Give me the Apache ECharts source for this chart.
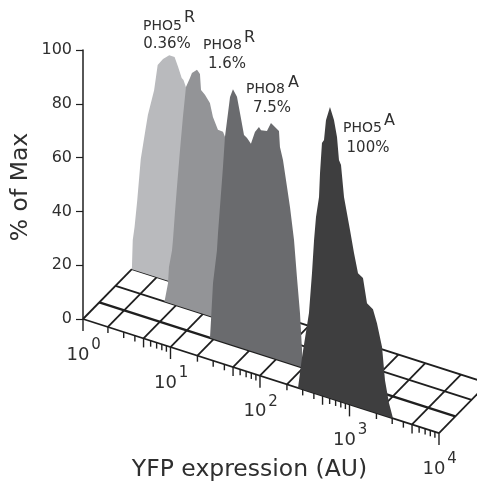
<!DOCTYPE html>
<html><head><meta charset="utf-8">
<style>html,body{margin:0;padding:0;background:#fff}#c{width:477px;height:484px}</style>
<script src="https://cdn.jsdelivr.net/npm/echarts@6/dist/echarts.min.js"></script>
</head><body><div id="c"></div>
<script>
// Histograms: [log10(YFP), % of max]
const pho5R = [[0,0],[.01,13],[.03,19],[.06,31],[.10,50],[.15,63],[.18,70.5],[.25,82.4],[.29,94],[.35,97.4],[.42,100],[.48,100],[.52,96],[.56,91.7],[.58,91],[.61,88],[.65,78.7],[.76,49],[.88,19.6],[.97,0]];
const pho8R = [[.55,0],[.589,8],[.60,14.8],[.634,22],[.645,26.5],[.667,38],[.69,49],[.724,64.6],[.757,78.7],[.791,91.4],[.836,95.7],[.858,98],[.915,100],[.948,98.7],[.96,92.2],[1.004,90.7],[1.06,88],[1.094,82.6],[1.15,78],[1.207,77.8],[1.229,76],[1.308,63],[1.398,39.5],[1.51,16],[1.6,0]];
const pho8A = [[1.244,0],[1.255,7],[1.278,21.8],[1.322,35],[1.334,42],[1.39,68.4],[1.412,80.3],[1.446,90],[1.469,96.6],[1.502,100],[1.547,97.5],[1.581,91.6],[1.626,83.5],[1.66,82.7],[1.704,80.9],[1.749,86],[1.794,88.5],[1.817,87.5],[1.884,87.9],[1.929,91.5],[2.019,89.4],[2.03,83.3],[2.064,78.6],[2.109,68.6],[2.143,61],[2.188,48.7],[2.221,34.6],[2.255,21],[2.278,6.8],[2.283,0]];
const pho5A = [[2.416,0],[2.461,11],[2.539,26.9],[2.573,41],[2.596,52.5],[2.618,60.7],[2.652,67.9],[2.663,76.2],[2.685,86.8],[2.708,88],[2.73,95],[2.775,100],[2.82,96],[2.854,90.5],[2.876,82.8],[2.899,81.3],[2.933,70.6],[3.0,60],[3.045,52.5],[3.09,46],[3.146,44.9],[3.191,36.7],[3.258,35.3],[3.303,30.9],[3.36,23.3],[3.393,12.2],[3.438,4.8],[3.483,0]];
const decades = [0,1,2,3,4];
const yTicks = [0,20,40,60,80,100];
const gridMultipliers = [1,2,5];
const tickMultipliers = [1,2,3,4,5,6,7,8,9];
const depthRows = [0,1,2,3];
const labelNames = ['PHO5','PHO8','PHO8','PHO5'];
const labelSups = ['R','R','A','A'];
const labelPercents = ['0.36%','1.6%','7.5%','100%'];

// Oblique projection, in axis units
const DX = 0.183, DY = 6.17, SLOPE = 10.6, ROW_SCALE = [1.082, 0.952, 0.90, 0.84];
const project = (log, pct, row) => [log + row * DX, pct * ROW_SCALE[Math.round(row)] - log * SLOPE + row * DY];
// the floor's decade marks sit very slightly left of the silhouette scale
const floorLog = l => l === 0 ? 0 : l * 1.0056 - 0.0225;
const INK = '#1f1f1f', TEXT = '#2f2f2f', FONT = '"DejaVu Sans"';

function hist(name, data, row, color) {
  return { type:'custom', name, data, coordinateSystem:'cartesian2d', clip:false, silent:true,
    renderItem(p, api) {
      if (p.dataIndex !== 0) return null;
      return { type:'polygon', shape:{ points:data.map(d => api.coord(project(d[0], d[1], row))) }, style:{ fill:color } };
    } };
}
const gridLogs = [];
decades.forEach(e => gridMultipliers.forEach(m => { const l = e + Math.log10(m); if (l <= 4) gridLogs.push(l); }));
const tickLogs = [];
decades.forEach(e => tickMultipliers.forEach(m => { const l = e + Math.log10(m); if (l <= 4) tickLogs.push([l, m]); }));

const line = (a, b, w, c) => ({ type:'line', shape:{ x1:a[0], y1:a[1], x2:b[0], y2:b[1] }, style:{ stroke:c || INK, lineWidth:w } });

const floor = { type:'custom', name:'floor', data:[0], clip:false, silent:true,
  renderItem(p, api) {
    const ch = [];
    depthRows.forEach(r => ch.push(line(api.coord(project(0,0,r)), api.coord(project(4,0,r)), r === 1 ? 2.4 : 1.8)));
    gridLogs.forEach(l => { const f = floorLog(l); ch.push(line(api.coord(project(f,0,0)), api.coord(project(f,0,3)), 1.8)); });
    return { type:'group', children:ch };
  } };
const front = { type:'custom', name:'front axis', data:[0], clip:false, silent:true,
  renderItem(p, api) {
    const ch = [];
    tickLogs.forEach(([l, m]) => {
      const a = api.coord(project(floorLog(l),0,0));
      const len = m === 1 ? 12 : (m === 5 ? 9 : 6);
      ch.push(line(a, [a[0], a[1] + len], 1.4));
    });
    decades.forEach(e => {
      const a = api.coord(project(floorLog(e),0,0));
      ch.push({ type:'text', style:{ text:'10', x:a[0]-5, y:a[1]+36, align:'center', verticalAlign:'middle', fill:TEXT, font:'18px '+FONT } });
      ch.push({ type:'text', style:{ text:String(e), x:a[0]+13, y:a[1]+26, align:'center', verticalAlign:'middle', fill:TEXT, font:'15px '+FONT } });
    });
    return { type:'group', children:ch };
  } };

const txt = (t, x, y, size, align, extra) => Object.assign({ type:'text', silent:true, style:{ text:t, x, y, align:align || 'center', verticalAlign:'middle', fill:TEXT, font:size+'px '+FONT } }, extra);
const graphics = [
  txt(labelNames[0],143,26,14,'left'), txt(labelSups[0],184,18,16,'left'), txt(labelPercents[0],167,44,15),
  txt(labelNames[1],203,45,14,'left'), txt(labelSups[1],244,38,16,'left'), txt(labelPercents[1],227,64,15),
  txt(labelNames[2],246,89,14,'left'), txt(labelSups[2],288,83,16,'left'), txt(labelPercents[2],272,108,15),
  txt(labelNames[3],343,128,14,'left'), txt(labelSups[3],384,121,16,'left'), txt(labelPercents[3],368,148,15),
  txt('YFP expression (AU)',249.5,470,23.5),
  txt('% of Max',21,187,23.5,'center',{ rotation:Math.PI/2, x:21, y:187, style:{ text:'% of Max', x:0, y:0, align:'center', verticalAlign:'middle', fill:TEXT, font:'23.5px '+FONT } })
];

const chart = echarts.init(document.getElementById('c'), null, { renderer:'canvas' });
chart.setOption({
  animation:false, backgroundColor:'#fff',
  grid:{ left:83, top:50, width:356, height:269 },
  xAxis:{ type:'value', min:0, max:4, show:false },
  yAxis:{ type:'value', min:0, max:100, interval:20, splitLine:{show:false},
    axisLine:{ show:true, lineStyle:{ color:INK, width:1.5 } },
    axisTick:{ show:true, length:7, lineStyle:{ color:INK, width:1.2 } },
    axisLabel:{ margin:11, color:TEXT, fontFamily:'DejaVu Sans', fontSize:16, customValues:yTicks } },
  series:[ floor,
    hist('PHO5R', pho5R, 3, '#b9babd'),
    hist('PHO8R', pho8R, 2, '#939497'),
    hist('PHO8A', pho8A, 1, '#6a6b6e'),
    hist('PHO5A', pho5A, 0, '#3e3e3f'),
    front ],
  graphic:{ elements:graphics }
});
</script></body></html>
